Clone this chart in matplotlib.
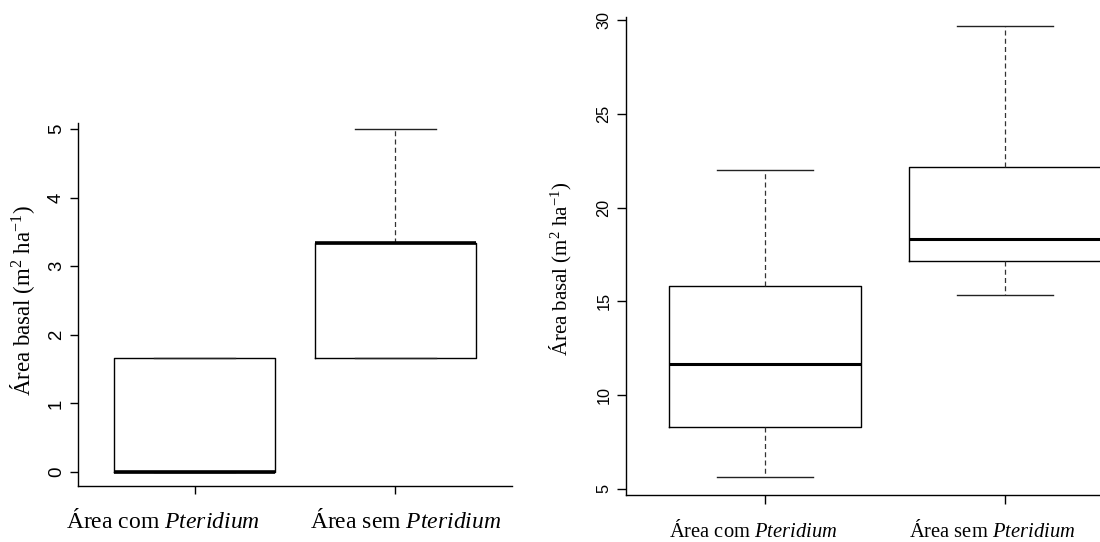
import matplotlib
matplotlib.use("Agg")
import matplotlib.pyplot as plt
from matplotlib.transforms import ScaledTranslation

plt.rcParams['mathtext.fontset'] = 'custom'
plt.rcParams['mathtext.rm'] = 'Liberation Serif'
plt.rcParams['mathtext.it'] = 'Liberation Serif:italic'

# dados
rotulos = ['Área com $\\mathit{Pteridium}$', 'Área sem $\\mathit{Pteridium}$']
titulo_y = 'Área basal (m$^{2}$ ha$^{-1}$)'

# painel esquerdo
esq_whislo = [0.0, 1.667]
esq_q1 = [0.0, 1.667]
esq_med = [0.0, 3.333]
esq_q3 = [1.667, 3.333]
esq_whishi = [1.667, 5.0]
esq_ticks = [0, 1, 2, 3, 4, 5]

# painel direito
dir_whislo = [5.66, 15.34]
dir_q1 = [8.32, 17.15]
dir_med = [11.65, 18.33]
dir_q3 = [15.84, 22.18]
dir_whishi = [22.0, 29.68]
dir_ticks = [5, 10, 15, 20, 25, 30]


def monta_stats(wlo, q1, med, q3, whi):
    return [dict(whislo=a, q1=b, med=c, q3=d, whishi=e, fliers=[])
            for a, b, c, d, e in zip(wlo, q1, med, q3, whi)]


def desenha(ax, stats, ticks, ylim, fs_num, fs_txt, lw_med, tick_len, pad_x, dx):
    ax.bxp(stats, positions=[1, 2], widths=0.8, showfliers=False,
           boxprops=dict(color='black', linewidth=1.0),
           medianprops=dict(color='black', linewidth=lw_med, solid_capstyle='butt'),
           whiskerprops=dict(color='#333333', linewidth=0.9, linestyle=(0, (4, 2.6))),
           capprops=dict(color='#222222', linewidth=1.0),
           capwidths=0.4)
    ax.set_xlim(0.42, 2.58)
    ax.set_ylim(*ylim)
    for s in ['top', 'right']:
        ax.spines[s].set_visible(False)
    for s in ['left', 'bottom']:
        ax.spines[s].set_linewidth(1.0)
    ax.set_yticks(ticks)
    ax.set_yticklabels([str(t) for t in ticks], fontfamily='Liberation Sans',
                       fontsize=fs_num, rotation=90, va='center')
    ax.set_xticks([1, 2])
    ax.set_xticklabels(rotulos, fontfamily='Liberation Serif', fontsize=fs_txt)
    ax.tick_params(axis='y', length=tick_len, width=1.0, pad=4)
    ax.tick_params(axis='x', length=tick_len, width=1.0, pad=pad_x)
    fig = ax.figure
    for lab, d in zip(ax.get_xticklabels(), dx):
        lab.set_transform(lab.get_transform() + ScaledTranslation(d / 100, 0, fig.dpi_scale_trans))


fig = plt.figure(figsize=(11, 5.42), dpi=100)

ax1 = fig.add_axes([78 / 1100, 1 - 485.7 / 542, 434 / 1100, 362.7 / 542])
desenha(ax1, monta_stats(esq_whislo, esq_q1, esq_med, esq_q3, esq_whishi),
        esq_ticks, (-0.2, 5.09), 13.4, 17, 2.6, 5.5, 11, [-32, 10])
ax1.set_ylabel(titulo_y, fontfamily='Liberation Serif', fontsize=16.5)
ax1.yaxis.set_label_coords(-0.095, 0.509)

ax2 = fig.add_axes([626 / 1100, 1 - 495 / 542, 517.8 / 1100, 478 / 542])
desenha(ax2, monta_stats(dir_whislo, dir_q1, dir_med, dir_q3, dir_whishi),
        dir_ticks, (4.68, 30.16), 11.7, 14.8, 2.2, 6.5, 11.5, [-12, -13])
ax2.set_ylabel(titulo_y, fontfamily='Liberation Serif', fontsize=15)
ax2.yaxis.set_label_coords(-0.1004, 0.473)

fig.savefig('out.png', dpi=100)
